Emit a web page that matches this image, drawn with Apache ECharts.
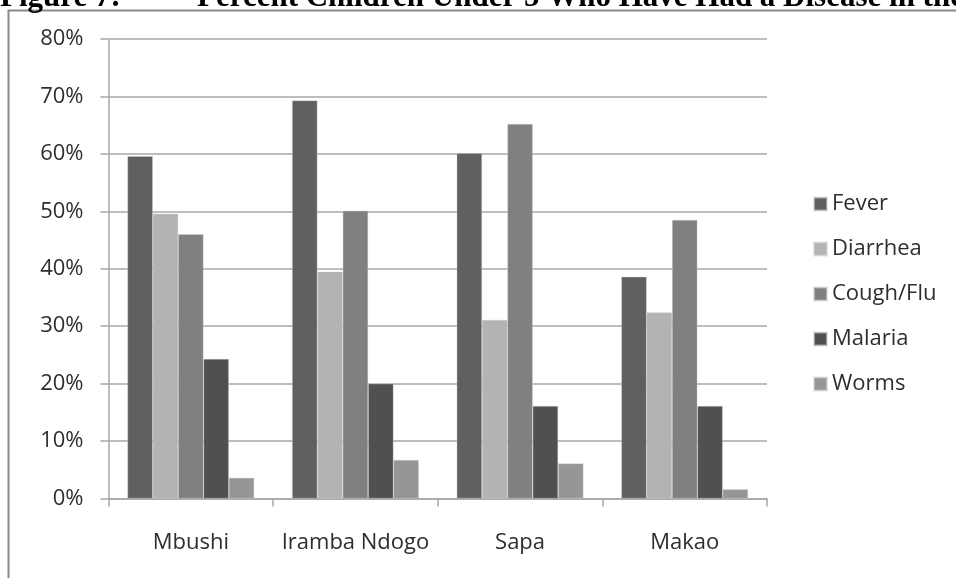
<!DOCTYPE html>
<html>
<head>
<meta charset="utf-8">
<script src="https://cdn.jsdelivr.net/npm/echarts@6/dist/echarts.min.js"></script>
<style>
  html, body { margin: 0; padding: 0; background: #ffffff; }
  #chart { width: 956px; height: 578px; }
</style>
</head>
<body>
<div id="chart"></div>
<script>
// Villages along the x axis
const villages = ['Mbushi', 'Iramba Ndogo', 'Sapa', 'Makao'];

// Share of children under 5 with each illness, in percent, per village
const fever    = [59.6, 69.3, 60.1, 38.6];
const diarrhea = [49.6, 39.5, 31.1, 32.4];
const coughFlu = [46.0, 50.1, 65.2, 48.5];
const malaria  = [24.3, 20.0, 16.1, 16.1];
const worms    = [3.6, 6.7, 6.1, 1.6];

// Y axis ticks (percent)
const yTicks = [0, 10, 20, 30, 40, 50, 60, 70, 80];

const seriesDefs = [
  { name: 'Fever',     data: fever,    color: '#606060' },
  { name: 'Diarrhea',  data: diarrhea, color: '#b3b3b3' },
  { name: 'Cough/Flu', data: coughFlu, color: '#808080' },
  { name: 'Malaria',   data: malaria,  color: '#505050' },
  { name: 'Worms',     data: worms,    color: '#969696' }
];

const FONT = '"Open Sans", "DejaVu Sans", sans-serif';
const TITLE_FONT = 'bold 31px "Liberation Serif", "DejaVu Serif", serif';
const TEXT_COLOR = '#2e2e2e';
const LINE_COLOR = '#a8a8a8';

const chart = echarts.init(document.getElementById('chart'), null, { renderer: 'canvas' });

chart.setOption({
  backgroundColor: '#ffffff',
  animation: false,
  textStyle: { fontFamily: FONT },
  graphic: [
    {
      // figure caption, running off the top edge of the page
      type: 'text',
      left: 0,
      top: -18,
      style: { text: 'Figure 7:', font: TITLE_FONT, fill: '#000000' }
    },
    {
      type: 'text',
      left: 197,
      top: -18,
      style: {
        text: 'Percent Children Under 5 Who Have Had a Disease in the',
        font: TITLE_FONT,
        fill: '#000000'
      }
    },
    {
      // chart frame
      type: 'rect',
      shape: { x: 8.5, y: 10.5, width: 1000, height: 700 },
      style: { fill: '#ffffff', stroke: '#8a8a8a', lineWidth: 2 },
      z: -1
    }
  ],
  grid: {
    left: 108.5,
    right: 189,
    top: 39,
    bottom: 79.5,
    containLabel: false
  },
  legend: {
    orient: 'vertical',
    left: 808,
    top: 188,
    itemWidth: 13,
    itemHeight: 13,
    itemGap: 23,
    icon: 'rect',
    textStyle: { fontFamily: FONT, fontSize: 22, color: TEXT_COLOR },
    data: seriesDefs.map(s => s.name)
  },
  xAxis: {
    type: 'category',
    data: villages,
    axisLine: { lineStyle: { color: LINE_COLOR, width: 1.5 } },
    axisTick: { show: true, alignWithLabel: false, length: 8, lineStyle: { color: LINE_COLOR, width: 1.5 } },
    axisLabel: { interval: 0, fontFamily: FONT, fontSize: 22, color: TEXT_COLOR, margin: 33 },
    splitLine: { show: false }
  },
  yAxis: {
    type: 'value',
    min: yTicks[0],
    max: yTicks[yTicks.length - 1],
    interval: yTicks[1] - yTicks[0],
    axisLine: { show: true, lineStyle: { color: LINE_COLOR, width: 1.5 } },
    axisTick: { show: true, length: 8, lineStyle: { color: LINE_COLOR, width: 1.5 } },
    axisLabel: { fontFamily: FONT, fontSize: 22, color: TEXT_COLOR, margin: 25, formatter: '{value}%' },
    splitLine: { show: true, lineStyle: { color: LINE_COLOR, width: 1.5 } }
  },
  series: seriesDefs.map(s => ({
    name: s.name,
    type: 'bar',
    data: s.data,
    barGap: '0%',
    barCategoryGap: '23%',
    itemStyle: { color: s.color, borderColor: 'rgba(210,210,210,0.6)', borderWidth: 0.6 }
  }))
});
</script>
</body>
</html>
